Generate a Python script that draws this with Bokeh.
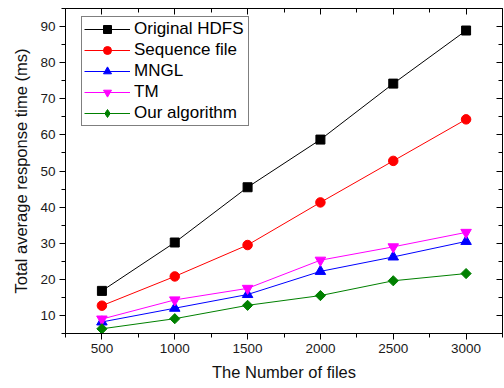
import numpy as np
from bokeh.plotting import figure
from bokeh.models import (LinearAxis, SingleIntervalTicker, Range1d, Legend, LegendItem,
                          CustomJSTickFormatter)
from bokeh.embed import file_html
from bokeh.resources import INLINE

files = [500, 1000, 1500, 2000, 2500, 3000]
original_hdfs = [16.8, 30.2, 45.5, 58.7, 74.2, 88.9]
sequence_file = [12.7, 20.8, 29.5, 41.3, 52.8, 64.3]
mngl = [8.2, 12.0, 15.8, 22.2, 26.2, 30.5]
tm = [9.0, 14.3, 17.5, 25.3, 29.0, 33.0]
our_algorithm = [6.3, 9.1, 12.8, 15.5, 19.6, 21.6]

FONT = "Liberation Sans"

p = figure(frame_width=437, frame_height=325, output_backend="svg", toolbar_location=None,
           x_range=Range1d(250, 3250), y_range=Range1d(5, 95),
           min_border_left=65, min_border_right=2, min_border_top=8, min_border_bottom=55)
p.grid.visible = False
p.outline_line_color = "black"
p.outline_line_width = 1
p.background_fill_color = "white"
p.border_fill_color = "white"
# off-screen range used only by the legend's diamond swatch
p.extra_y_ranges = {"legend_only": Range1d(1000, 1001)}

p.xaxis.ticker = SingleIntervalTicker(interval=500, num_minor_ticks=2)
p.yaxis.ticker = SingleIntervalTicker(interval=10, num_minor_ticks=2)

for ax in [p.xaxis[0], p.yaxis[0]]:
    ax.axis_line_color = "black"
    ax.axis_line_width = 1
    ax.major_tick_out = 6
    ax.major_tick_in = 0
    ax.minor_tick_out = 4
    ax.minor_tick_in = 0
    ax.major_tick_line_color = "black"
    ax.minor_tick_line_color = "black"
    ax.major_label_text_font = FONT
    ax.major_label_text_font_size = "13.5px"
    ax.major_label_text_color = "#1a1a1a"
    ax.axis_label_text_font = FONT
    ax.axis_label_text_font_size = "16.5px"
    ax.axis_label_text_font_style = "normal"
    ax.axis_label_text_color = "#111111"

p.xaxis.axis_label = "The Number of files"
p.yaxis.axis_label = "Total average response time (ms)"
p.xaxis.major_label_standoff = 4
p.yaxis.major_label_standoff = 4
p.xaxis.axis_label_standoff = 7
p.yaxis.axis_label_standoff = 7

blank = CustomJSTickFormatter(code="return ''")
top = LinearAxis(ticker=SingleIntervalTicker(interval=500, num_minor_ticks=2),
                 formatter=blank,
                 major_tick_in=6, major_tick_out=0, minor_tick_in=4, minor_tick_out=0,
                 axis_line_color=None, major_label_standoff=0)
right = LinearAxis(ticker=SingleIntervalTicker(interval=10, num_minor_ticks=2),
                   formatter=blank,
                   major_tick_in=6, major_tick_out=0, minor_tick_in=4, minor_tick_out=0,
                   axis_line_color=None, major_label_standoff=0)
p.add_layout(top, "above")
p.add_layout(right, "right")

series = [
    ("Original HDFS", original_hdfs, "black", "square", 9, 0.0),
    ("Sequence file", sequence_file, "red", "circle", 9.5, 0.0),
    ("MNGL", mngl, "blue", "triangle", 10.5, 0.0),
    ("TM", tm, "magenta", "inverted_triangle", 10.5, 0.0),
    ("Our algorithm", our_algorithm, "green", "square", 7.2, np.pi / 4),
]

items = []
for name, ys, color, marker, size, ang in series:
    l = p.line(files, ys, line_color=color, line_width=1)
    s = p.scatter(files, ys, marker=marker, size=size, angle=ang,
                  fill_color=color, line_color=color)
    if ang != 0.0:
        # legend swatch: a diamond (legend ignores marker angle); drawn off-screen in plot
        s = p.scatter(files, ys, marker="diamond", size=size, y_range_name="legend_only",
                      fill_color=color, line_color=color)
    items.append(LegendItem(label=name, renderers=[l, s]))

legend = Legend(items=items, location=(16, 207), margin=0, padding=2,
                spacing=1, glyph_width=46, glyph_height=20, label_standoff=4,
                label_text_font=FONT, label_text_font_size="17px",
                label_text_color="black", label_height=20, label_width=112,
                border_line_color="black", border_line_width=1,
                background_fill_alpha=1)
p.add_layout(legend)

open("out.html", "w").write(file_html(p, INLINE))
